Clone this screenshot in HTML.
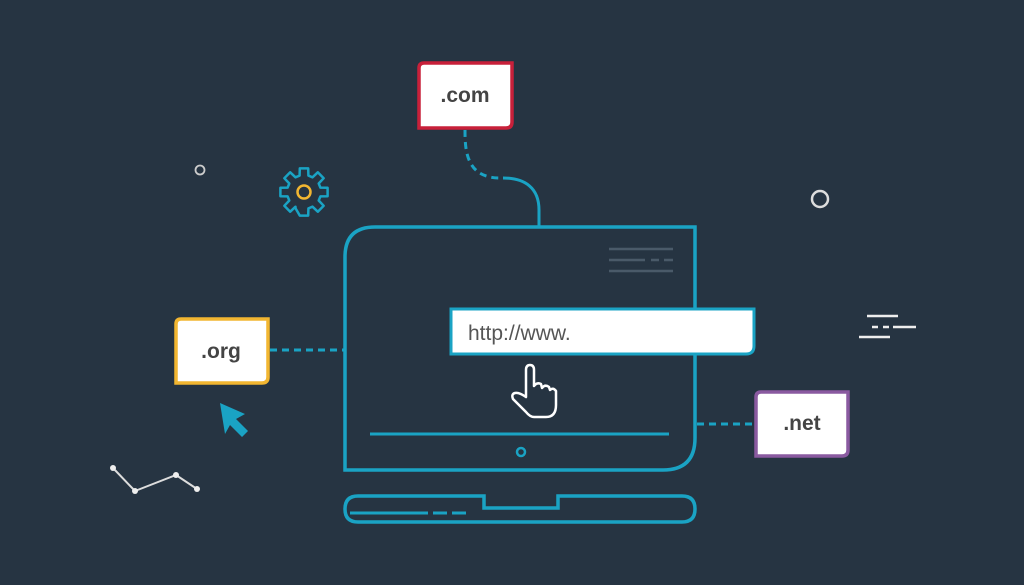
<!DOCTYPE html>
<html><head><meta charset="utf-8"><style>
html,body{margin:0;padding:0;background:#263442;}
svg{display:block}
text{font-family:"Liberation Sans",sans-serif;}
</style></head><body>
<svg width="1024" height="585" viewBox="0 0 1024 585" xmlns="http://www.w3.org/2000/svg">
<rect width="1024" height="585" fill="#263442"/>
<!-- connectors -->
<path d="M465 130 C465 150 466 178 500 178" fill="none" stroke="#1aa3c4" stroke-width="3" stroke-dasharray="7 5"/>
<path d="M503 178 C525 178 539 188 539 210 L539 227" fill="none" stroke="#1aa3c4" stroke-width="3"/>
<line x1="270" y1="350" x2="345" y2="350" stroke="#1aa3c4" stroke-width="3" stroke-dasharray="7 5"/>
<line x1="697" y1="424" x2="755" y2="424" stroke="#1aa3c4" stroke-width="3" stroke-dasharray="7 5"/>
<!-- laptop screen -->
<path d="M375 227 L695 227 L695 438 Q695 470 663 470 L345 470 L345 257 Q345 227 375 227 Z" fill="none" stroke="#1aa3c4" stroke-width="3.5"/>
<line x1="370" y1="434" x2="669" y2="434" stroke="#1aa3c4" stroke-width="3"/>
<circle cx="521" cy="452" r="4" fill="none" stroke="#1aa3c4" stroke-width="2.5"/>
<g stroke="#4a5a69" stroke-width="2.5">
<line x1="609" y1="249" x2="673" y2="249"/>
<line x1="609" y1="260" x2="645" y2="260"/>
<line x1="651" y1="260" x2="659" y2="260"/>
<line x1="664" y1="260" x2="673" y2="260"/>
<line x1="609" y1="271" x2="673" y2="271"/>
</g>
<!-- base -->
<path d="M358 496 L484 496 L484 508 L558 508 L558 496 L682 496 Q695 496 695 509 Q695 522 682 522 L358 522 Q345 522 345 509 Q345 496 358 496 Z" fill="none" stroke="#1aa3c4" stroke-width="3.5"/>
<line x1="350" y1="513" x2="428" y2="513" stroke="#1aa3c4" stroke-width="3"/>
<line x1="433" y1="513" x2="447" y2="513" stroke="#1aa3c4" stroke-width="3"/>
<line x1="452" y1="513" x2="466" y2="513" stroke="#1aa3c4" stroke-width="3"/>
<!-- url bar -->
<path d="M451 309 L754 309 L754 346 Q754 354 746 354 L451 354 Z" fill="#fff" stroke="#1aa3c4" stroke-width="3"/>
<text x="468" y="340" font-size="21" fill="#555">http://www.</text>
<!-- hand -->
<path d="M526 397 L526 370 Q526 365 530 365 Q534 365 534 370 L534 386 Q537 382 541 384 L542 388 Q545 384 549 387 L550 390 Q553 387 556 391 L556 405 Q556 417 546 417 L534 417 Q530 417 526 412 L513 399 Q511 394 515 393 Q519 392 526 397 Z" fill="#263442" stroke="#fff" stroke-width="2.5" stroke-linejoin="round"/>
<!-- .com -->
<path d="M424 63 L512 63 L512 122 Q512 128 506 128 L419 128 L419 68 Q419 63 424 63 Z" fill="#fff" stroke="#c8203a" stroke-width="3.5"/>
<text x="465" y="102" font-size="21" font-weight="bold" fill="#444" text-anchor="middle">.com</text>
<!-- .org -->
<path d="M181 319 L268 319 L268 377 Q268 383 262 383 L176 383 L176 324 Q176 319 181 319 Z" fill="#fff" stroke="#f2b631" stroke-width="3.5"/>
<text x="221" y="358" font-size="21" font-weight="bold" fill="#444" text-anchor="middle">.org</text>
<!-- .net -->
<path d="M761 392 L848 392 L848 450 Q848 456 842 456 L756 456 L756 397 Q756 392 761 392 Z" fill="#fff" stroke="#8a5aa0" stroke-width="3.5"/>
<text x="802" y="430" font-size="21" font-weight="bold" fill="#444" text-anchor="middle">.net</text>
<!-- gear -->
<polygon points="320.4,187.6 327.6,187.8 327.6,196.2 320.4,196.4 318.7,200.5 323.7,205.8 317.8,211.7 312.5,206.7 308.4,208.4 308.2,215.6 299.8,215.6 295.6,208.4 295.5,206.7 290.2,211.7 284.3,205.8 289.3,200.5 287.6,196.4 280.4,196.2 280.4,187.8 287.6,187.6 289.3,183.5 284.3,178.2 290.2,172.3 295.5,177.3 299.6,175.6 299.8,168.4 308.2,168.4 308.4,175.6 312.5,177.3 317.8,172.3 323.7,178.2 318.7,183.5" fill="none" stroke="#1aa3c4" stroke-width="2.5" stroke-linejoin="round"/>
<circle cx="304" cy="192" r="6.5" fill="none" stroke="#f2b631" stroke-width="2.5"/>
<!-- decorations -->
<circle cx="200" cy="170" r="4.5" fill="none" stroke="#ccc" stroke-width="1.8"/>
<circle cx="820" cy="199" r="8" fill="none" stroke="#ddd" stroke-width="2.5"/>
<g stroke="#eee" stroke-width="2.5">
<line x1="867" y1="316" x2="898" y2="316"/>
<line x1="872" y1="327" x2="878" y2="327"/>
<line x1="883" y1="327" x2="889" y2="327"/>
<line x1="893" y1="327" x2="916" y2="327"/>
<line x1="859" y1="337" x2="890" y2="337"/>
</g>
<polygon points="220,403 245,414 236,419 248,431 242,437 230,425 225,434" fill="#1aa3c4"/>
<polyline points="113,468 135,491 176,475 197,489" fill="none" stroke="#ddd" stroke-width="2"/>
<g fill="#eee"><circle cx="113" cy="468" r="3"/><circle cx="135" cy="491" r="3"/><circle cx="176" cy="475" r="3"/><circle cx="197" cy="489" r="3"/></g>
</svg>
</body></html>
